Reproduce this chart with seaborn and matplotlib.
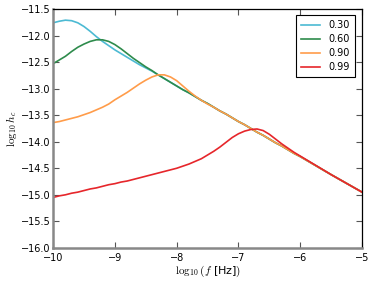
import matplotlib
matplotlib.use("Agg")
import matplotlib.pyplot as plt
import seaborn as sns
import pandas as pd

# log10 frequency grid (fine where the curves bend)
log_f = [-10.0, -9.9, -9.8, -9.7, -9.6, -9.5, -9.4, -9.3, -9.2, -9.1,
         -9.0, -8.9, -8.8, -8.7, -8.6, -8.5, -8.4, -8.3, -8.2, -8.1,
         -8.0, -7.9, -7.8, -7.7, -7.6, -7.5, -7.4, -7.3, -7.2, -7.1,
         -7.0, -6.9, -6.8, -6.7, -6.6, -6.5, -6.4, -6.3, -6.2, -6.1,
         -6.0, -5.5, -5.0]

# log10 h_c for each eccentricity
hc_030 = [-11.76, -11.73, -11.71, -11.72, -11.76, -11.83, -11.92, -12.02, -12.11, -12.19,
          -12.27, -12.34, -12.41, -12.48, -12.55, -12.61, -12.67, -12.74, -12.81, -12.88,
          -12.95, -13.02, -13.08, -13.15, -13.22, -13.28, -13.35, -13.42, -13.48, -13.55,
          -13.62, -13.68, -13.75, -13.82, -13.88, -13.95, -14.02, -14.08, -14.15, -14.22,
          -14.28, -14.62, -14.95]
hc_060 = [-12.53, -12.46, -12.39, -12.30, -12.22, -12.16, -12.11, -12.08, -12.08, -12.11,
          -12.17, -12.25, -12.34, -12.43, -12.51, -12.59, -12.66, -12.74, -12.81, -12.88,
          -12.95, -13.02, -13.08, -13.15, -13.22, -13.28, -13.35, -13.42, -13.48, -13.55,
          -13.62, -13.68, -13.75, -13.82, -13.88, -13.95, -14.02, -14.08, -14.15, -14.22,
          -14.28, -14.62, -14.95]
hc_090 = [-13.64, -13.62, -13.59, -13.56, -13.53, -13.49, -13.45, -13.40, -13.35, -13.29,
          -13.21, -13.14, -13.07, -12.99, -12.91, -12.84, -12.78, -12.74, -12.74, -12.78,
          -12.85, -12.95, -13.05, -13.14, -13.22, -13.29, -13.35, -13.42, -13.48, -13.55,
          -13.62, -13.68, -13.75, -13.82, -13.88, -13.95, -14.02, -14.08, -14.15, -14.22,
          -14.28, -14.62, -14.95]
hc_099 = [-15.05, -15.02, -15.00, -14.97, -14.95, -14.92, -14.89, -14.87, -14.84, -14.81,
          -14.79, -14.76, -14.74, -14.71, -14.68, -14.65, -14.62, -14.59, -14.56, -14.53,
          -14.50, -14.46, -14.42, -14.37, -14.32, -14.25, -14.18, -14.10, -14.01, -13.92,
          -13.85, -13.80, -13.77, -13.76, -13.79, -13.86, -13.95, -14.04, -14.12, -14.20,
          -14.27, -14.62, -14.95]

ecc_labels = ["0.30", "0.60", "0.90", "0.99"]
colors = ["#4cbad3", "#2e8b4c", "#ff9c4a", "#e6262b"]

rows = []
for lab, vals in zip(ecc_labels, [hc_030, hc_060, hc_090, hc_099]):
    assert len(vals) == len(log_f)
    for x, y in zip(log_f, vals):
        rows.append({"logf": x, "loghc": y, "e": lab})
df = pd.DataFrame(rows)

plt.rcParams["mathtext.fontset"] = "cm"
plt.rcParams["font.family"] = ["DejaVu Sans"]

fig = plt.figure(figsize=(3.74, 2.82), dpi=100)
ax = fig.add_axes([0.142, 0.121, 0.826, 0.847])

sns.lineplot(data=df, x="logf", y="loghc", hue="e", palette=colors,
             linewidth=1.2, ax=ax, sort=True)

ax.set_xlim(-10, -5)
ax.set_ylim(-16, -11.5)
ax.set_xticks([-10, -9, -8, -7, -6, -5])
ax.set_yticks([-16.0, -15.5, -15.0, -14.5, -14.0, -13.5, -13.0, -12.5, -12.0, -11.5])
ax.set_yticklabels(["\u221216.0", "\u221215.5", "\u221215.0", "\u221214.5", "\u221214.0",
                    "\u221213.5", "\u221213.0", "\u221212.5", "\u221212.0", "\u221211.5"])
ax.tick_params(direction="in", length=4, width=0.8, labelsize=7, pad=2,
               top=True, right=True, color="#555555")
ax.tick_params(axis="x", pad=3.5)

for side in ["left", "bottom"]:
    ax.spines[side].set_color("#888888")
    ax.spines[side].set_linewidth(1.8)
for side in ["top", "right"]:
    ax.spines[side].set_color("black")
    ax.spines[side].set_linewidth(0.9)

ax.set_xlabel(r"$\log_{10}(f$ [Hz]$)$", fontsize=8, labelpad=1)
ax.set_ylabel(r"$\log_{10}h_c$", fontsize=8, labelpad=1)

leg = ax.legend(loc="upper right", fontsize=7, fancybox=False, framealpha=1,
                handlelength=2.0, borderpad=0.55, labelspacing=0.4,
                borderaxespad=0, bbox_to_anchor=(0.977, 0.975))
leg.get_frame().set_edgecolor("black")
leg.get_frame().set_linewidth(0.8)

fig.savefig("out.png", dpi=100)
